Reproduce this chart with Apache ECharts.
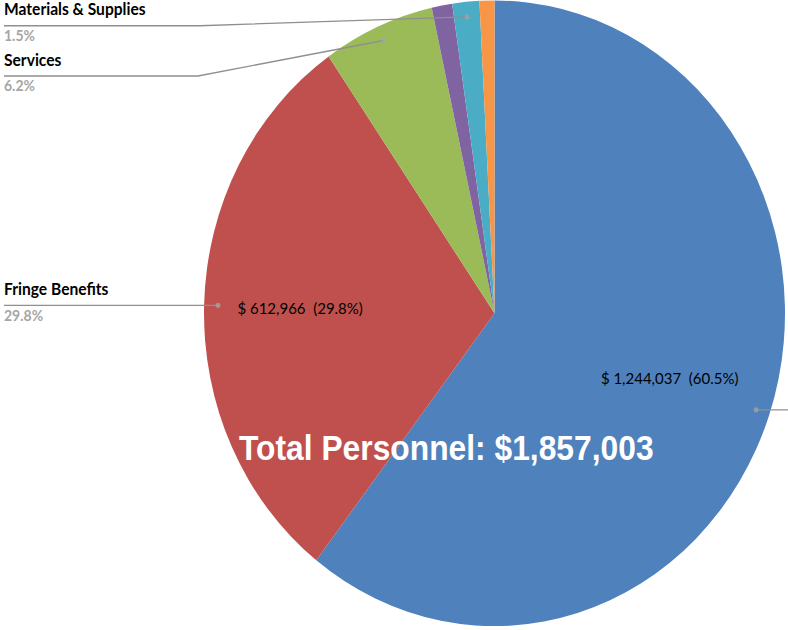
<!DOCTYPE html>
<html>
<head>
<meta charset="utf-8">
<script src="https://cdn.jsdelivr.net/npm/echarts@6/dist/echarts.min.js"></script>
<style>
  html, body { margin: 0; padding: 0; background: #ffffff; width: 788px; height: 630px; overflow: hidden; }
  #chart { width: 788px; height: 585px; transform: scaleY(1.07692); transform-origin: 0 0; }
</style>
</head>
<body>
<div id="chart"></div>
<script>
// ---- data ----
const categories = ['Salaries & Wages', 'Fringe Benefits', 'Services', 'Equipment', 'Materials & Supplies', 'Other'];
const values = [1244037, 612966, 127500, 23500, 30850, 17000];
const colors = ['#4f81bd', '#c0504d', '#9bbb59', '#8064a2', '#4bacc6', '#f79646'];
const outsideLabelIdx = [1, 2, 4];   // slices named outside the pie
const titlePrefix = 'Total Personnel: $';

// ---- layout ----
const SY = 630 / 585;
const CX = 494.5, CY = 290.9, R = 290.5;
const DOT_R = 0.952;
const labelGeom = {
  4: { lineY: 25.7, elbowX: 200 },
  2: { lineY: 76, elbowX: 198 },
  1: { lineY: null, elbowX: null }
};

const total = values.reduce((a, b) => a + b, 0);
const fmt = v => v.toLocaleString('en-US');

const pieData = categories.map((c, i) => ({ name: c, value: values[i], itemStyle: { color: colors[i] } }));

const outsideData = categories.map((c, i) => {
  const shown = outsideLabelIdx.indexOf(i) >= 0 || i === 0;
  return {
    name: c, value: values[i],
    label: { show: shown, formatter: i === 0 ? '' : undefined },
    labelLine: { show: shown }
  };
});

const insideDataFor = idx => categories.map((c, i) => ({
  name: c, value: values[i], label: { show: i === idx }
}));

// mid angle of each slice (in value units) for the leader-line dots
const dotData = [];
let cum = 0;
values.forEach((v, i) => {
  if (outsideLabelIdx.indexOf(i) >= 0 || i === 0) dotData.push([DOT_R, cum + v / 2]);
  cum += v;
});

const insideSeries = (idx, r0) => ({
  type: 'pie', center: [CX, CY], radius: [R * r0, R], startAngle: 90, clockwise: true,
  silent: true, percentPrecision: 1,
  itemStyle: { color: 'rgba(0,0,0,0)', borderWidth: 0 },
  label: {
    position: 'inside', color: '#000000', fontFamily: 'Lato', fontSize: 15,
    formatter: p => '$ ' + fmt(p.value) + '  (' + p.percent.toFixed(1) + '%)'
  },
  labelLine: { show: false },
  data: insideDataFor(idx), z: 3
});

const chart = echarts.init(document.getElementById('chart'), null, { renderer: 'svg' });
chart.setOption({
  animation: false,
  backgroundColor: '#ffffff',
  title: {
    text: titlePrefix + fmt(values[0] + values[1]),
    left: 239, top: 398, padding: 0,
    textStyle: { color: '#ffffff', fontFamily: 'Liberation Sans, Arial, sans-serif', fontWeight: 'bold', fontSize: 31.8, lineHeight: 36 }
  },
  polar: { center: [CX, CY], radius: R },
  angleAxis: { type: 'value', min: 0, max: total, startAngle: 90, clockwise: true, show: false },
  radiusAxis: { type: 'value', min: 0, max: 1, show: false },
  series: [
    {
      type: 'pie', center: [CX, CY], radius: R, startAngle: 90, clockwise: true,
      silent: true, label: { show: false }, labelLine: { show: false },
      itemStyle: { borderWidth: 0 },
      data: pieData, z: 2
    },
    {
      type: 'pie', center: [CX, CY], radius: R * DOT_R, startAngle: 90, clockwise: true,
      silent: true, percentPrecision: 1, avoidLabelOverlap: false,
      itemStyle: { color: 'rgba(0,0,0,0)', borderWidth: 0 },
      label: {
        position: 'outside',
        formatter: p => '{name|' + p.name + '}\n{per|' + p.percent.toFixed(1) + '%}',
        rich: {
          name: { fontFamily: 'Lato', fontWeight: 'bold', fontSize: 15.6, color: '#000000', lineHeight: 31 },
          per: { fontFamily: 'Lato', fontWeight: 'bold', fontSize: 14, color: '#a6a6a6', lineHeight: 19 }
        }
      },
      labelLine: { show: true, length: 10, length2: 10, lineStyle: { color: '#8f8f8f', width: 1.3 } },
      labelLayout: function (params) {
        const i = params.dataIndex;
        const pts = params.labelLinePoints;
        if (!pts || !pts.length) return {};
        const p0 = pts[0];
        if (i === 0) {
          return { x: 800, y: p0[1], labelLinePoints: [p0, [795, p0[1]], [800, p0[1]]] };
        }
        const g = labelGeom[i] || {};
        const lineY = g.lineY != null ? g.lineY / SY : p0[1];
        const elbowX = g.elbowX != null ? g.elbowX : p0[0];
        return {
          x: 4, y: lineY - 6.5, align: 'left', verticalAlign: 'middle',
          labelLinePoints: [p0, [elbowX, lineY], [4, lineY]]
        };
      },
      data: outsideData, z: 3
    },
    insideSeries(0, 0.254),
    insideSeries(1, 0.318),
    {
      type: 'scatter', coordinateSystem: 'polar', silent: true,
      symbol: 'circle', symbolSize: 5,
      itemStyle: { color: '#a3a3a3' },
      data: dotData, z: 5
    }
  ]
});
</script>
</body>
</html>
